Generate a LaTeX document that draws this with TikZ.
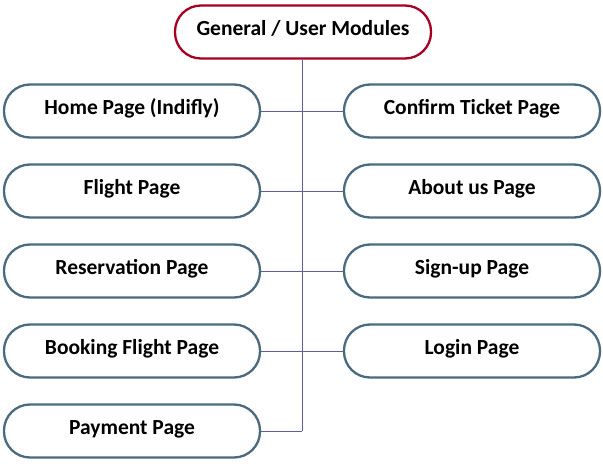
\documentclass[tikz,border=0pt]{standalone}
\usepackage{fontspec}
\setmainfont{Carlito}
\definecolor{topred}{HTML}{A50021}
\definecolor{boxblue}{HTML}{4A6A7E}
\definecolor{linepurple}{HTML}{5B5EA6}
\begin{document}
\begin{tikzpicture}[x=1pt,y=-1pt,
  pill/.style={draw=boxblue,line width=2.3pt,rounded corners=26pt,minimum width=256pt,minimum height=53pt,inner sep=0pt,text height=6pt,text depth=0pt,font=\fontsize{21.5}{24}\selectfont\bfseries,fill=white},
  toppill/.style={pill,draw=topred},
  conn/.style={draw=linepurple,line width=1pt}]
\useasboundingbox (0,0) rectangle (603,466);
\node[toppill] (top) at (303,32) {General / User Modules};
\coordinate (trunkend) at (302,431);
\node[pill] (l1) at (132,111) {Home Page (Indifly)};
\node[pill] (l2) at (132,191) {Flight Page};
\node[pill] (l3) at (132,271) {Reservation Page};
\node[pill] (l4) at (132,351) {Booking Flight Page};
\node[pill] (l5) at (132,431) {Payment Page};
\node[pill] (r1) at (472,111) {Confirm Ticket Page};
\node[pill] (r2) at (472,191) {About us Page};
\node[pill] (r3) at (472,271) {Sign-up Page};
\node[pill] (r4) at (472,351) {Login Page};
\draw[conn] (top.south -| trunkend) -- (trunkend);
\draw[conn] (l1.east) -- (r1.west);
\draw[conn] (l2.east) -- (r2.west);
\draw[conn] (l3.east) -- (r3.west);
\draw[conn] (l4.east) -- (r4.west);
\draw[conn] (l5.east) -- (trunkend);
\end{tikzpicture}
\end{document}
